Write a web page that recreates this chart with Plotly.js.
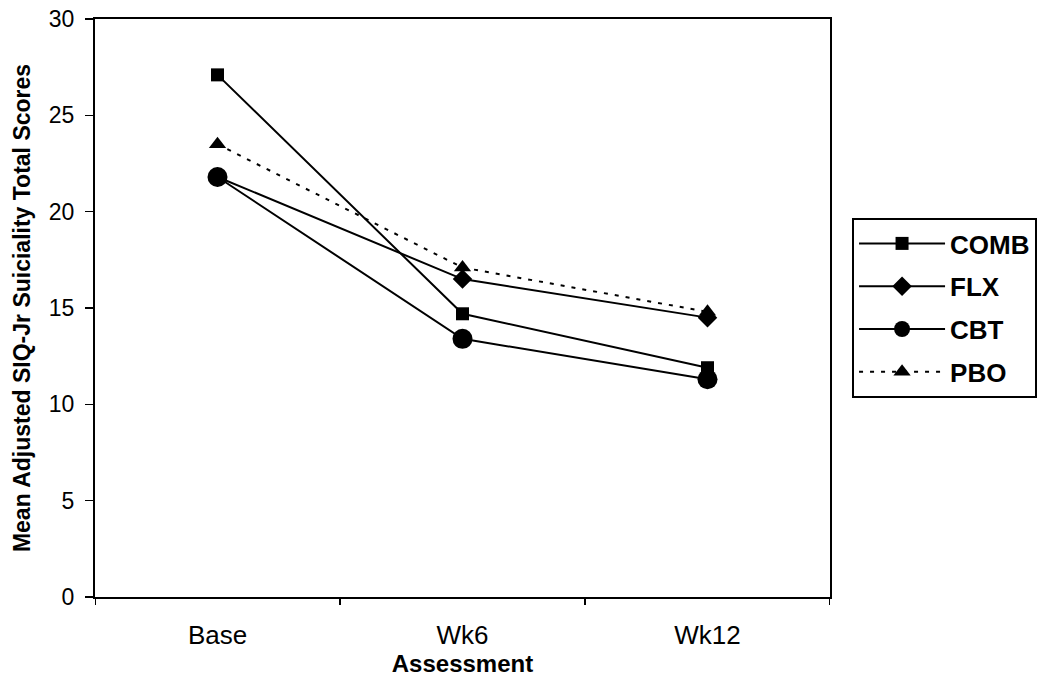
<!DOCTYPE html>
<html>
<head>
<meta charset="utf-8">
<script src="https://cdn.plot.ly/plotly-3.0.1.min.js"></script>
<style>html,body{margin:0;padding:0;background:#fff;}#chart{width:1050px;height:689px;}</style>
</head>
<body>
<div id="chart"></div>
<script>
const categories = ["Base", "Wk6", "Wk12"];
const comb = [27.1, 14.7, 11.9];
const flx = [21.8, 16.5, 14.5];
const cbt = [21.8, 13.4, 11.3];
const pbo = [23.5, 17.1, 14.8];

const traces = [
  {name: "COMB", legendgroup: "a", x: categories, y: comb, mode: "lines+markers",
   line: {color: "#000", width: 2}, marker: {symbol: "square", size: 13, color: "#000"}},
  {name: "FLX", legendgroup: "b", x: categories, y: flx, mode: "lines+markers",
   line: {color: "#000", width: 2}, marker: {symbol: "diamond", size: 15, color: "#000"}},
  {name: "CBT", legendgroup: "c", x: categories, y: cbt, mode: "lines+markers",
   line: {color: "#000", width: 2}, marker: {symbol: "circle", size: 20, color: "#000"}},
  {name: "PBO", legendgroup: "d", x: categories, y: pbo, mode: "lines+markers",
   line: {color: "#000", width: 2, dash: "4px,7px"}, marker: {symbol: "triangle-up", size: 15, color: "#000"}}
];

const layout = {
  width: 1050, height: 689,
  margin: {l: 95, r: 220, t: 19, b: 92},
  paper_bgcolor: "#fff", plot_bgcolor: "#fff",
  font: {family: "Arial, Liberation Sans, sans-serif", color: "#000"},
  showlegend: true,
  legend: {
    x: 1.03, xanchor: "left", y: 0.5, yanchor: "middle",
    bordercolor: "#000", borderwidth: 2,
    font: {size: 26, family: "Arial, Liberation Sans, sans-serif", weight: "bold", color: "#000"},
    itemwidth: 86, traceorder: "grouped", tracegroupgap: 6
  },
  xaxis: {
    type: "category",
    range: [-0.5, 2.5],
    showline: true, linecolor: "#000", linewidth: 2, mirror: true,
    showgrid: false, zeroline: false,
    ticks: "", tickfont: {size: 26}, ticklabelstandoff: 14,
    title: {text: "<b>Assessment</b>", font: {size: 24}, standoff: 2}
  },
  yaxis: {
    range: [0, 30], dtick: 5,
    showline: true, linecolor: "#000", linewidth: 2, mirror: true,
    showgrid: false, zeroline: false,
    ticks: "outside", ticklen: 8, tickwidth: 1.5, tickcolor: "#000",
    tickfont: {size: 23}, ticklabelstandoff: 6,
    title: {text: "<b>Mean Adjusted SIQ-Jr Suiciality Total Scores</b>", font: {size: 23}, standoff: 12}
  },
  shapes: [-0.5, 0.5, 1.5, 2.5].map(v => ({
    type: "line", xref: "x", yref: "paper", x0: v, x1: v, y0: 0, y1: -0.014,
    line: {color: "#000", width: 2}
  }))
};

Plotly.newPlot("chart", traces, layout, {displayModeBar: false, staticPlot: true});
</script>
</body>
</html>
